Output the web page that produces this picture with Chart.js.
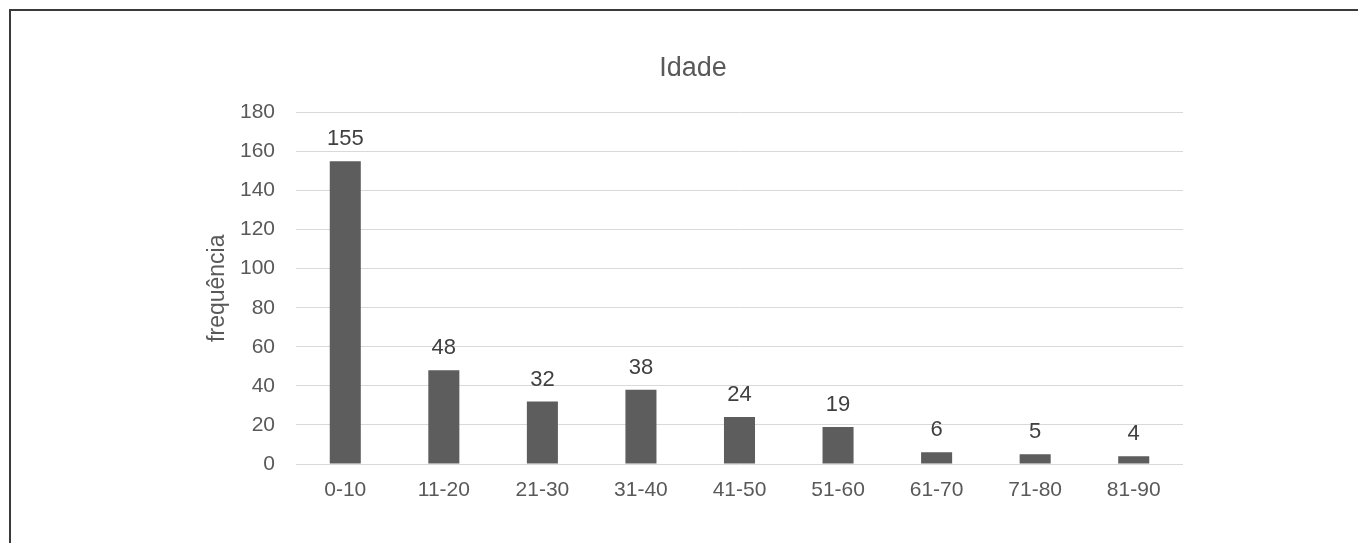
<!DOCTYPE html>
<html>
<head>
<meta charset="utf-8">
<script src="https://cdn.jsdelivr.net/npm/chart.js@4/dist/chart.umd.min.js"></script>
<style>
  html, body { margin: 0; padding: 0; background: #fff; overflow: hidden; }
  #wrap { position: relative; width: 1358px; height: 543px; }
  #frame { position: absolute; left: 9px; top: 9px; right: -10px; bottom: -10px;
           border-top: 2px solid #3a3a3a; border-left: 2px solid #3a3a3a; pointer-events: none; }
  canvas { position: absolute; left: 0; top: 0; }
</style>
</head>
<body>
<div id="wrap">
  <canvas id="ageChart" width="1358" height="543"></canvas>
  <div id="frame"></div>
</div>
<script>
const ageGroups = ['0-10', '11-20', '21-30', '31-40', '41-50', '51-60', '61-70', '71-80', '81-90'];
const frequency = [155, 48, 32, 38, 24, 19, 6, 5, 4];
const yTicks = { min: 0, max: 180, step: 20 };

const fontName = '"Liberation Sans", Arial, sans-serif';

// value labels above every bar
const barLabels = {
  id: 'barLabels',
  afterDatasetsDraw(chart) {
    const ctx = chart.ctx;
    const meta = chart.getDatasetMeta(0);
    ctx.save();
    ctx.font = '22px ' + fontName;
    ctx.fillStyle = '#404040';
    ctx.textAlign = 'center';
    ctx.textBaseline = 'middle';
    meta.data.forEach((bar, i) => {
      ctx.fillText(String(frequency[i]), bar.x, bar.y - 22);
    });
    ctx.restore();
  }
};

const ctx = document.getElementById('ageChart').getContext('2d');
const myChart = new Chart(ctx, {
  type: 'bar',
  data: {
    labels: ageGroups,
    datasets: [{
      label: 'Idade',
      data: frequency,
      backgroundColor: '#5d5d5d',
      borderWidth: 0,
      categoryPercentage: 1,
      barPercentage: 0.315
    }]
  },
  options: {
    responsive: false,
    animation: false,
    layout: { padding: { left: 203, right: 175, top: 0, bottom: 0 } },
    plugins: {
      legend: { display: false },
      tooltip: { enabled: false },
      title: {
        display: true,
        text: 'Idade',
        color: '#595959',
        font: { family: fontName, size: 27, weight: 'normal' },
        padding: { top: 52, bottom: 28 }
      }
    },
    scales: {
      x: {
        grid: { display: false, drawTicks: false },
        border: { display: false },
        ticks: {
          color: '#595959',
          font: { family: fontName, size: 21 },
          padding: 14,
          maxRotation: 0
        },
        afterFit: (scale) => { scale.height = 79; }
      },
      y: {
        min: yTicks.min,
        max: yTicks.max,
        grid: { color: '#d9d9d9', lineWidth: 1, drawTicks: false },
        border: { display: false },
        ticks: {
          stepSize: yTicks.step,
          color: '#595959',
          font: { family: fontName, size: 21 },
          padding: 21
        },
        title: {
          display: true,
          text: 'frequência',
          color: '#595959',
          font: { family: fontName, size: 23 },
          padding: { top: 1, bottom: 0 }
        },
        afterFit: (scale) => { scale.width = 93; }
      }
    }
  },
  plugins: [barLabels]
});
</script>
</body>
</html>
